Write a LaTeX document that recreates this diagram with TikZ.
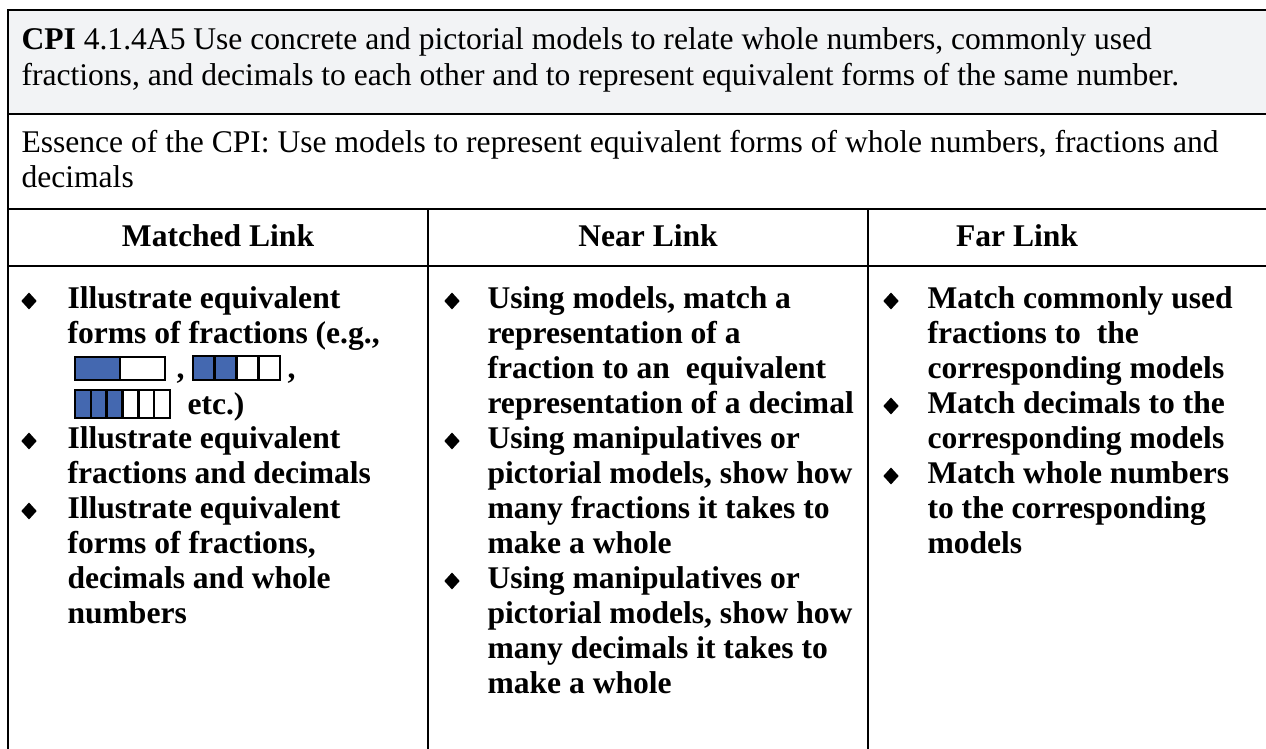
\documentclass[tikz,border=0pt]{standalone}
\usepackage{fontspec}
\setmainfont{Liberation Serif}
\usetikzlibrary{shapes.geometric}

\definecolor{rowgray}{RGB}{242,243,245}
\definecolor{barblue}{RGB}{68,104,176}

\tikzset{
  rule/.style={line width=0.76pt},
  cell text/.style={anchor=base west, inner sep=0pt, font=\fontsize{12}{13}\selectfont},
  item text/.style={cell text, font=\fontsize{12}{13}\selectfont\bfseries},
  head text/.style={anchor=base, inner sep=0pt, font=\fontsize{12}{13}\selectfont\bfseries},
  bullet/.style={diamond, fill=black, inner sep=0pt, minimum width=6pt, minimum height=6.6pt},
  part/.style={draw=black, line width=1pt}
}

\begin{document}
\begin{tikzpicture}[x=0.38pt, y=-0.38pt]
\useasboundingbox (0,0) rectangle (1266,749);

\fill [rowgray] (8,9.5) rectangle (1266,114);

% CPI and essence rows
\node [cell text] (cpi-1) at (21,49) {\textbf{CPI} 4.1.4A5 Use concrete and pictorial models to relate whole numbers, commonly used};
\node [cell text] (cpi-2) at (21,85) {fractions, and decimals to each other and to represent equivalent forms of the same number.};
\node [cell text] (essence-1) at (21,152) {Essence of the CPI: Use models to represent equivalent forms of whole numbers, fractions and};
\node [cell text] (essence-2) at (21,187) {decimals};

\foreach \l/\x [count=\i] in {Matched Link/218, Near Link/648, Far Link/1017}
  \node [head text] (head-\i) at (\x,246) {\l};

% matched link
\foreach \t/\k in {Illustrate equivalent/0, {forms of fractions (e.g.,}/1,
    Illustrate equivalent/4, fractions and decimals/5, Illustrate equivalent/6,
    {forms of fractions,}/7, decimals and whole/8, numbers/9}
  \node [item text] (matched-\k) at (67,308+35*\k) {\t};

\foreach \x/\y/\w/\h/\n/\k in {75/357/90/23/2/1, 193/356/87/24/4/2, 75/390/95/28/6/3} {
  \fill [barblue] (\x,\y) rectangle ++(\w*\k/\n,\h);
  \foreach \j in {1,...,\n}
    \draw [part] (\x+\w*\j/\n-\w/\n,\y) rectangle ++(\w/\n,\h);
}
\node [item text] (comma-1) at (176,378) {,};
\node [item text] (comma-2) at (287,378) {,};
\node [item text] (etc) at (187,414) {etc.)};

% near link
\foreach \t [count=\k from 0] in {{Using models, match a}, representation of a,
    fraction to an\ \ equivalent, representation of a decimal, Using manipulatives or,
    {pictorial models, show how}, many fractions it takes to, make a whole,
    Using manipulatives or, {pictorial models, show how}, many decimals it takes to,
    make a whole}
  \node [item text] (near-\k) at (487,308+35*\k) {\t};

% far link
\foreach \t [count=\k from 0] in {Match commonly used, fractions to\ \ the,
    corresponding models, Match decimals to the, corresponding models,
    Match whole numbers, to the corresponding, models}
  \node [item text] (far-\k) at (927,308+35*\k) {\t};

\foreach \x/\y [count=\i] in {29/301, 29/441, 29/511, 452/301, 452/441, 452/581,
    891/301, 891/406, 891/476}
  \node [bullet] (bullet-\i) at (\x,\y) {};

% table rules
\draw [rule] (8,749) -- (8,9.5) -- (1266,9.5);
\foreach \y in {114,209,266}
  \draw [rule] (8,\y) -- (1266,\y);
\foreach \x in {428,868}
  \draw [rule] (\x,209) -- (\x,749);

\end{tikzpicture}
\end{document}
